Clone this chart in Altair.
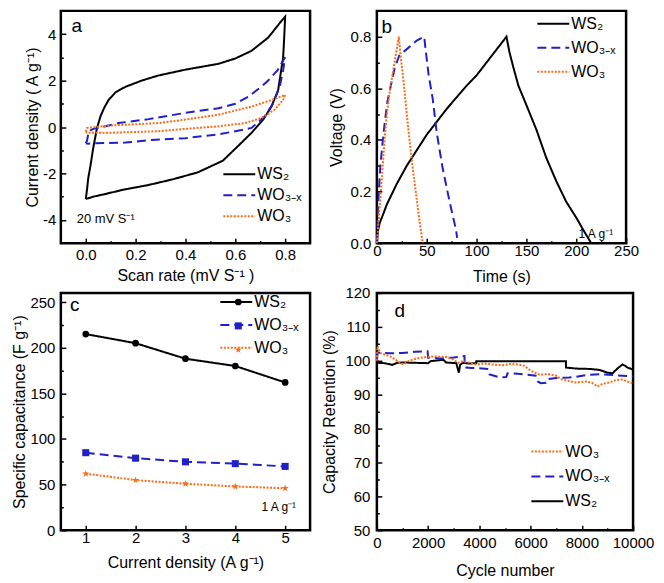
import altair as alt
import pandas as pd

FONT = "Liberation Sans"
BLACK, BLUE, ORANGE = "#000000", "#2020c8", "#ff6a14"
WS2, WOX, WO3 = "WS₂", "WO₃₋ₓ", "WO₃"

# ---------------- panel a : CV loops (potential V, current A/g) ----------------
a_ws2_v = [0.0, 0.005, 0.01, 0.019, 0.03, 0.045, 0.059, 0.075, 0.092, 0.12, 0.159, 0.225, 0.292, 0.4, 0.532,
           0.6, 0.665, 0.732, 0.784, 0.8, 0.796, 0.792, 0.772, 0.745, 0.712, 0.665, 0.612, 0.55, 0.45, 0.35,
           0.25, 0.15, 0.08, 0.03, 0.0]
a_ws2_i = [-3.1, -2.7, -2.2, -1.66, -0.9, -0.05, 0.46, 0.85, 1.17, 1.5, 1.73, 2.0, 2.22, 2.47, 2.72,
           2.95, 3.28, 3.85, 4.55, 4.75, 3.8, 3.0, 1.59, 0.88, 0.32, -0.25, -0.81, -1.45, -1.95, -2.25,
           -2.5, -2.7, -2.88, -3.0, -3.1]
a_wox_v = [0.0, 0.005, 0.012, 0.03, 0.052, 0.132, 0.252, 0.4, 0.532, 0.6, 0.652, 0.7, 0.732, 0.77, 0.792, 0.8,
           0.797, 0.792, 0.778, 0.752, 0.718, 0.665, 0.6, 0.532, 0.4, 0.265, 0.159, 0.039, 0.01, 0.0]
a_wox_i = [-0.7, -0.6, -0.18, -0.08, -0.04, 0.17, 0.34, 0.61, 0.81, 1.0, 1.3, 1.7, 2.0, 2.45, 2.86, 3.0,
           2.8, 2.44, 1.73, 1.02, 0.46, -0.04, -0.18, -0.32, -0.48, -0.56, -0.67, -0.7, -0.72, -0.7]
a_wo3_v = [0.0, 0.005, 0.092, 0.292, 0.4, 0.532, 0.665, 0.745, 0.8,
           0.792, 0.757, 0.705, 0.639, 0.532, 0.4, 0.292, 0.092, 0.005, 0.0]
a_wo3_i = [-0.2, -0.04, 0.06, 0.17, 0.32, 0.53, 0.88, 1.16, 1.38,
           1.17, 0.74, 0.39, 0.17, 0.03, -0.08, -0.18, -0.25, -0.25, -0.2]

# ---------------- panel b : charge / discharge (time s, voltage V) ----------------
b_ws2_t = [0, 1, 3, 5, 10, 15, 20, 25, 30, 40, 50, 60, 70, 80, 90, 100, 110, 120, 130,
           133, 137, 142, 150, 160, 170, 180, 190, 200, 208, 215]
b_ws2_v = [0, 0.047, 0.08, 0.099, 0.15, 0.19, 0.23, 0.265, 0.3, 0.36, 0.42, 0.47, 0.52, 0.565, 0.61, 0.65, 0.7,
           0.75, 0.8, 0.74, 0.68, 0.61, 0.535, 0.44, 0.33, 0.24, 0.16, 0.099, 0.045, 0.0]
b_wox_t = [0, 0.5, 1, 2, 3.5, 6, 8, 10.7, 14, 18, 22.5, 28, 34, 40, 47.5,
           49, 52, 56, 60, 66, 73, 79.5, 80.5]
b_wox_v = [0.0, 0.05, 0.12, 0.2, 0.3, 0.4, 0.47, 0.55, 0.61, 0.68, 0.727, 0.745, 0.765, 0.785, 0.8,
           0.746, 0.65, 0.56, 0.43, 0.29, 0.16, 0.05, 0.02]
b_wo3_t = [0, 1, 3, 5.5, 7.7, 10, 13, 16, 19, 22,
           24, 27, 30, 33, 36, 40, 43, 46]
b_wo3_v = [0, 0.05, 0.15, 0.28, 0.4, 0.5, 0.59, 0.66, 0.73, 0.8,
           0.72, 0.62, 0.5, 0.39, 0.29, 0.17, 0.08, 0.0]

# ---------------- panel c : specific capacitance ----------------
c_density = [1, 2, 3, 4, 5]
c_ws2 = [215, 205, 188, 180, 162]
c_wox = [85, 79, 75, 73, 70]
c_wo3 = [62, 55, 51, 48, 46]

# ---------------- panel d : cycling stability ----------------
d_ws2_n = [0, 50, 300, 600, 800, 1000, 1500, 2000, 2100, 2600, 2700, 3100, 3200, 3250, 3350, 3600, 3880, 3880,
           7380, 7380, 7800, 8300, 8700, 9000, 9195, 9400, 9585, 9700, 9780, 9970, 10000]
d_ws2_r = [100.3, 99.4, 99.3, 98.8, 99.4, 99.5, 99.4, 99.3, 99.9, 100.3, 99.5, 99.3, 96.5, 98.8, 99.4, 99.2, 99.3,
           99.9, 99.9, 98.0, 97.7, 97.6, 97.3, 96.5, 96.3, 97.8, 98.9, 98.5, 98.0, 97.5, 97.3]
d_wox_n = [0, 30, 500, 1000, 1500, 1980, 2000, 2500, 3000, 3420, 3430, 3700, 4000, 4350, 4400, 4800, 5050, 5100,
           5500, 5830, 6200, 6280, 6400, 6600, 6670, 7000, 7500, 7770, 8200, 8680, 9200, 9600, 10000]
d_wox_r = [100.5, 102.4, 102.2, 102.3, 102.7, 102.8, 100.9, 100.7, 101.0, 101.4, 98.0, 97.9, 97.8, 97.6, 96.0,
           95.1, 95.2, 96.3, 96.2, 95.9, 95.6, 93.9, 93.4, 93.5, 94.6, 94.9, 95.1, 95.3, 95.8, 96.0, 95.8, 95.6, 95.4]
d_wo3_n = [0, 20, 130, 320, 520, 710, 900, 1040, 1230, 1420, 1680, 1940, 2200, 2460, 2720, 2980, 3170, 3370,
           3630, 3890, 4150, 4530, 4920, 5250, 5500, 5760, 6020, 6350, 6670, 7000, 7190, 7450, 7770, 8160, 8420,
           8610, 8810, 9070, 9330, 9590, 9780, 9970]
d_wo3_r = [100.0, 104.2, 102.3, 101.8, 101.3, 100.4, 99.4, 98.9, 99.9, 100.4, 100.9, 101.1, 101.3, 101.2, 101.1,
           100.4, 99.4, 99.9, 99.4, 98.9, 99.2, 98.9, 98.7, 99.1, 98.9, 98.5, 97.0, 95.9, 96.1, 95.6, 94.6, 94.1,
           93.6, 93.9, 93.4, 92.4, 93.2, 93.6, 94.3, 94.5, 93.9, 93.4]


def frame(names, xs_list, ys_list):
    rows = []
    for name, xs, ys in zip(names, xs_list, ys_list):
        for i, (x, y) in enumerate(zip(xs, ys)):
            rows.append({"s": name, "s2": name + " ", "x": x, "y": y, "i": i})
    return pd.DataFrame(rows)


def axis(title, step, fmt, values, label_pad, title_pad):
    minor = f"abs(datum.value/{step} - round(datum.value/{step})) > 0.01"
    return alt.Axis(
        title=title, values=values, format=fmt, offset=-5, domain=False, grid=False,
        tickSize=5, tickWidth=1.5, tickColor="black", labelOverlap=False, labelFlush=False,
        tickDash={"condition": {"test": minor, "value": [0, 2.5, 10]}, "value": [10, 0]},
        labelExpr=f"({minor}) ? '' : replace(datum.label, '−', '-')",
        labelPadding=label_pad, titlePadding=title_pad,
        labelFont=FONT, labelFontSize=15, labelColor="black",
        titleFont=FONT, titleFontSize=16, titleFontWeight="normal", titleColor="black",
    )


def legend(lx, ly, row_pad, **extra):
    kw = dict(title=None, orient="none", legendX=lx, legendY=ly, symbolType="M-2,0H2", symbolSize=256,
              symbolStrokeWidth=2, labelFont=FONT, labelFontSize=16, labelColor="black", rowPadding=row_pad,
              labelOffset=9, padding=0, labelLimit=200)
    kw.update(extra)
    return alt.Legend(**kw)


def note(text, x, y, size, align="left"):
    return alt.Chart(pd.DataFrame({"t": [text]})).mark_text(
        align=align, baseline="middle", font=FONT, fontSize=size, color="black"
    ).encode(x=alt.value(x), y=alt.value(y), text="t:N")


def lines(df, domain, colors, dashes, xscale, yscale, xax, yax, leg):
    return alt.Chart(df).mark_line(strokeWidth=2).encode(
        x=alt.X("x:Q", scale=xscale, axis=xax),
        y=alt.Y("y:Q", scale=yscale, axis=yax),
        color=alt.Color("s:N", scale=alt.Scale(domain=domain, range=colors), legend=leg),
        strokeDash=alt.StrokeDash("s:N", scale=alt.Scale(domain=domain, range=dashes), legend=leg),
        order=alt.Order("i:Q"),
    )


names = [WS2, WOX, WO3]
cols = [BLACK, BLUE, ORANGE]
dash = [[1, 0], [9, 5], [2, 1.5]]

# panel a
df_a = frame(names, [a_ws2_v, a_wox_v, a_wo3_v], [a_ws2_i, a_wox_i, a_wo3_i])
pa = alt.layer(
    lines(df_a, names, cols, dash,
          alt.Scale(domain=[-0.1, 0.9], nice=False, zero=False),
          alt.Scale(domain=[-5, 5], nice=False),
          axis("Scan rate (mV S⁻¹ )", 0.2, ".1f", [0, 0.1, 0.2, 0.3, 0.4, 0.5, 0.6, 0.7, 0.8], 4, 5),
          axis("Current density ( A g⁻¹)", 2, "d", [-4, -3, -2, -1, 0, 1, 2, 3, 4], 5, 2),
          legend(170, 155, 4)),
    note("a", 16, 15, 19, "center"),
    note("20 mV S⁻¹", 16, 209, 13),
).properties(width=250, height=233)

# panel b
df_b = frame(names, [b_ws2_t, b_wox_t, b_wo3_t], [b_ws2_v, b_wox_v, b_wo3_v])
pb = alt.layer(
    lines(df_b, names, cols, dash,
          alt.Scale(domain=[0, 250], nice=False),
          alt.Scale(domain=[0, 0.9], nice=False),
          axis("Time (s)", 50, "d", [0, 25, 50, 75, 100, 125, 150, 175, 200, 225, 250], 0, 10),
          axis("Voltage (V)", 0.2, ".1f", [0, 0.1, 0.2, 0.3, 0.4, 0.5, 0.6, 0.7, 0.8], 6, 6),
          legend(168, 4, 7)),
    note("b", 10, 16, 19, "center"),
    note("1 A g⁻¹", 237, 224, 12, "right"),
).properties(width=250, height=233)

# panel c
star = ("M0,-1L0.235,-0.324L0.951,-0.309L0.380,0.124L0.588,0.809L0,0.4L-0.588,0.809L-0.380,0.124"
        "L-0.951,-0.309L-0.235,-0.324Z")
names2 = [n + " " for n in names]
df_c = frame(names, [c_density] * 3, [c_ws2, c_wox, c_wo3])
xs_c = alt.Scale(domain=[0.5, 5.5], nice=False, zero=False)
ys_c = alt.Scale(domain=[0, 260], nice=False)
xa_c = axis("Current density (A g⁻¹)", 1, "d", [1, 1.5, 2, 2.5, 3, 3.5, 4, 4.5, 5], 0, 9)
ya_c = axis("Specific capacitance (F g⁻¹)", 50, "d", list(range(0, 251, 25)), 6, 2)
leg_pts = alt.Legend(title=None, orient="none", legendX=170, legendY=1, labelExpr="''", labelFontSize=16,
                     labelFont=FONT, rowPadding=8, labelOffset=9, padding=0, symbolStrokeWidth=0)
pts_c = alt.Chart(df_c).mark_point(filled=True, opacity=1).encode(
    x=alt.X("x:Q", scale=xs_c, axis=xa_c),
    y=alt.Y("y:Q", scale=ys_c, axis=ya_c),
    fill=alt.Fill("s2:N", scale=alt.Scale(domain=names2, range=cols), legend=leg_pts),
    shape=alt.Shape("s2:N", scale=alt.Scale(domain=names2, range=["circle", "square", star]), legend=leg_pts),
    size=alt.Size("s2:N", scale=alt.Scale(domain=names2, range=[45, 55, 130]), legend=leg_pts),
)
pc = alt.layer(
    lines(df_c, names, cols, dash, xs_c, ys_c, xa_c, ya_c, legend(167, 0, 6)),
    pts_c,
    note("c", 14, 12, 19, "center"),
    note("1 A g⁻¹", 236, 215, 12, "right"),
).properties(width=250, height=238)

# panel d
names_d = [WO3, WOX, WS2]
df_d = frame([WS2, WOX, WO3], [d_ws2_n, d_wox_n, d_wo3_n], [d_ws2_r, d_wox_r, d_wo3_r])
pd_ = alt.layer(
    lines(df_d, names_d, [ORANGE, BLUE, BLACK], [[2, 1.5], [9, 5], [1, 0]],
          alt.Scale(domain=[0, 10000], nice=False),
          alt.Scale(domain=[50, 120], nice=False, zero=False),
          axis("Cycle number", 2000, "d", list(range(0, 10001, 1000)), 5, 12),
          axis("Capacity Retention (%)", 10, "d", list(range(50, 121, 5)), 7, 7),
          legend(162, 150, 8)),
    note("d", 23, 18, 19, "center"),
).properties(width=257, height=238)

chart = alt.concat(
    pa, pb, pc, pd_, columns=2, spacing={"row": 50, "column": 67}, bounds="flush", align="none"
).resolve_scale(
    color="independent", strokeDash="independent", fill="independent", shape="independent", size="independent"
).resolve_legend(
    color="independent", strokeDash="independent", fill="independent", shape="independent", size="independent"
).properties(
    padding={"left": 2, "top": 0, "right": 0, "bottom": 0}
).configure(font=FONT).configure_view(stroke="black", strokeWidth=2.5)

chart.save("out.html", embed_options={"renderer": "svg", "actions": False})
